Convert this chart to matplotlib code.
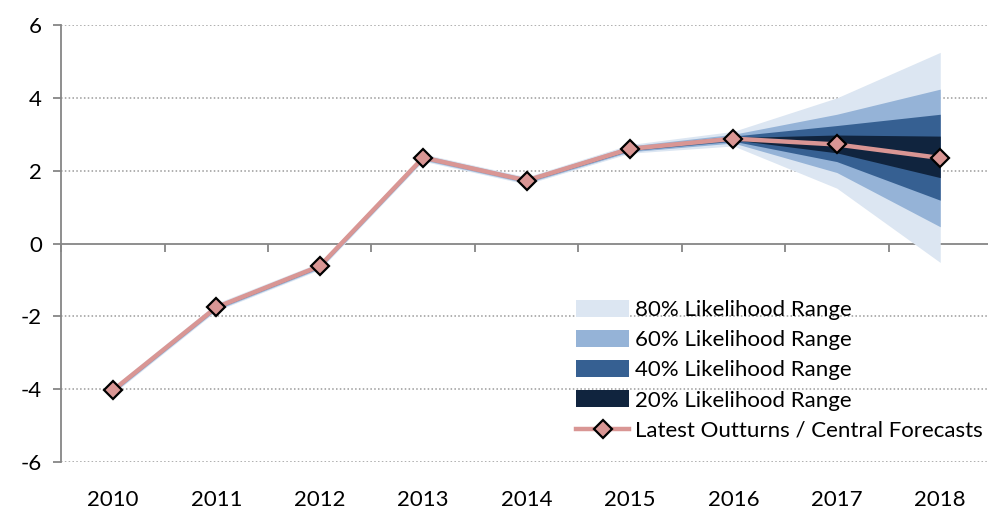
import matplotlib
matplotlib.use("Agg")
import matplotlib.pyplot as plt
from matplotlib.patches import Patch
from matplotlib.lines import Line2D

years = ["2010", "2011", "2012", "2013", "2014", "2015", "2016", "2017", "2018"]
central = [-4.03, -1.75, -0.62, 2.36, 1.73, 2.60, 2.88, 2.72, 2.35]

upper_80 = [-3.93, -1.64, -0.52, 2.46, 1.83, 2.72, 3.08, 4.00, 5.25]
lower_80 = [-4.13, -1.85, -0.72, 2.26, 1.63, 2.48, 2.68, 1.52, -0.52]
upper_60 = [-3.96, -1.68, -0.55, 2.43, 1.80, 2.68, 3.00, 3.55, 4.24]
lower_60 = [-4.10, -1.82, -0.69, 2.29, 1.66, 2.52, 2.76, 1.95, 0.46]
upper_40 = [-3.99, -1.71, -0.58, 2.40, 1.77, 2.65, 2.95, 3.24, 3.55]
lower_40 = [-4.07, -1.79, -0.66, 2.32, 1.69, 2.55, 2.81, 2.25, 1.19]
upper_20 = [-4.01, -1.73, -0.60, 2.38, 1.75, 2.62, 2.91, 2.98, 2.95]
lower_20 = [-4.05, -1.77, -0.64, 2.34, 1.71, 2.58, 2.85, 2.49, 1.81]

band_labels = ["80% Likelihood Range", "60% Likelihood Range",
               "40% Likelihood Range", "20% Likelihood Range"]
band_colors = ["#dce6f2", "#95b3d7", "#366092", "#10243e"]
line_color = "#d99694"
grey = "#868686"

plt.rcParams['font.family'] = ['Lato', 'DejaVu Sans']
plt.rcParams['axes.unicode_minus'] = False

fig = plt.figure(figsize=(9.88, 5.09), dpi=100)
ax = fig.add_axes([0.062, 0.0923, 0.942, 0.8585])

x = list(range(len(years)))
bands = [(upper_80, lower_80), (upper_60, lower_60),
         (upper_40, lower_40), (upper_20, lower_20)]
for (up, lo), col in zip(bands, band_colors):
    ax.fill_between(x, lo, up, color=col, linewidth=0, zorder=2)

ax.plot(x, central, color=line_color, lw=3.2, marker="D", markersize=9,
        markerfacecolor=line_color, markeredgecolor="black", mew=1.6, zorder=4)

ax.set_xlim(-0.5, len(years) - 0.5)
ax.set_ylim(-6, 6)
ax.set_yticks([-6, -4, -2, 0, 2, 4, 6])
ax.set_yticklabels(["-6", "-4", "-2", "0", "2", "4", "6"])
ax.set_xticks(x)
ax.set_xticklabels(years)

for y in [-6, -4, -2, 2, 4, 6]:
    ax.axhline(y, color="#9a9a9a", lw=1.1, ls=(0, (1, 1.5)), zorder=1)

for s in ["top", "right", "bottom"]:
    ax.spines[s].set_visible(False)
ax.spines["left"].set_color(grey)
ax.spines["left"].set_linewidth(1.3)
ax.tick_params(axis="y", colors=grey, length=6, width=1.3, labelsize=16,
               labelcolor="black", pad=8)
ax.tick_params(axis="x", length=0, labelsize=16, labelcolor="black", pad=20)

# horizontal axis line at zero with category boundary ticks pointing down
sec = ax.secondary_xaxis(0.5)
sec.set_xticks([i - 0.5 for i in range(len(years) + 1)])
sec.set_xticklabels([])
sec.tick_params(axis="x", which="both", direction="in", length=6, width=1.3,
                colors=grey, labelbottom=False, labeltop=False)
for sp in sec.spines.values():
    sp.set_color(grey)
    sp.set_linewidth(1.3)

handles = [Patch(facecolor=c, edgecolor="none") for c in band_colors]
handles.append(Line2D([], [], color=line_color, lw=3.2, marker="D", markersize=9,
                      markerfacecolor=line_color, markeredgecolor="black", mew=1.6))
labels = band_labels + ["Latest Outturns / Central Forecasts"]
ax.legend(handles, labels, loc="lower right", bbox_to_anchor=(1.0, 0.028),
          frameon=False, fontsize=16, handlelength=2.35, handleheight=0.8,
          handletextpad=0.3, labelspacing=0.45, borderaxespad=0)

fig.savefig("out.png", dpi=100)
